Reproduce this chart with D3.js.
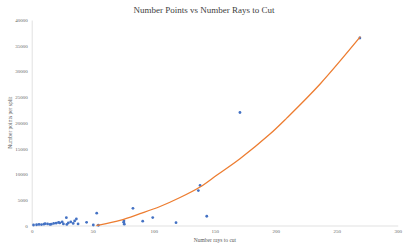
<!DOCTYPE html>
<html>
<head>
<meta charset="utf-8">
<script src="https://cdn.jsdelivr.net/npm/d3@7"></script>
<style>
  body { margin: 0; background: #fff; }
  svg { display: block; }
</style>
</head>
<body>
<svg></svg>
<script>
// rays to cut vs points per split
let raysX = [1.5, 4, 6, 8, 10, 11, 13, 15, 16, 18, 20, 22, 23, 25, 26, 28.4, 28.8, 30, 32, 34, 35.2, 36.6, 38,
             45, 50.5, 53.3, 54.6, 75.4, 75.6, 75.9, 83, 91, 99.2, 118.3, 136.6, 138, 143.5, 170.7, 269]
let pointsY = [100, 150, 200, 180, 250, 350, 300, 200, 250, 400, 450, 600, 500, 700, 300, 1520, 200, 500, 700, 400, 900, 1265, 300,
               620, 100, 2400, 50, 620, 900, 250, 3350, 850, 1550, 550, 6800, 7800, 1800, 22000, 36500]

// trendline
let trendX = [53, 56, 72.4, 88.8, 105.2, 121.6, 138, 151.6, 170.7, 195.3, 209, 236.6, 269.4]
let trendY = [0, 120, 1000, 2300, 3700, 5450, 7500, 9780, 13000, 17800, 20900, 27600, 36750]

let xTicks = [0, 50, 100, 150, 200, 250, 300]
let yTicks = [0, 5000, 10000, 15000, 20000, 25000, 30000, 35000, 40000]

let width = 408
let height = 249
let padLeft = 31.7
let padRight = 397.7
let padTop = 20
let padBottom = 225.5

let svg = d3.select('svg')
svg.attr('width', width).attr('height', height)

let xScale = d3.scaleLinear().domain([0, 300]).range([padLeft, padRight])
let yScale = d3.scaleLinear().domain([0, 40000]).range([padBottom, padTop])

// title
svg.append('text')
    .attr('x', 204)
    .attr('y', 12.5)
    .attr('text-anchor', 'middle')
    .style('font-family', 'Liberation Serif')
    .style('font-size', '9px')
    .style('fill', '#404040')
    .text('Number Points vs Number Rays to Cut')

// axes
let xAxis = d3.axisBottom(xScale).tickValues(xTicks).tickSize(0).tickPadding(4).tickFormat(d3.format('d'))
let yAxis = d3.axisLeft(yScale).tickValues(yTicks).tickSize(0).tickPadding(4).tickFormat(d3.format('d'))

let gx = svg.append('g')
    .attr('transform', 'translate(0,' + padBottom + ')')
    .call(xAxis)
gx.select('.domain').attr('stroke', '#d9d9d9').attr('stroke-width', 0.8)

let gy = svg.append('g')
    .attr('transform', 'translate(' + padLeft + ',0)')
    .call(yAxis)
gy.select('.domain').attr('stroke', '#d9d9d9').attr('stroke-width', 0.8)

svg.selectAll('.tick text')
    .style('font-family', 'Liberation Serif')
    .style('font-size', '5px')
    .style('fill', '#666')

svg.append('text')
    .attr('transform', 'rotate(-90)')
    .attr('x', -(padTop + padBottom) / 2)
    .attr('y', 11.5)
    .attr('text-anchor', 'middle')
    .style('font-family', 'Liberation Serif')
    .style('font-size', '5.5px')
    .style('fill', '#595959')
    .text('Number points per split')

svg.append('text')
    .attr('x', 215)
    .attr('y', 241.5)
    .attr('text-anchor', 'middle')
    .style('font-family', 'Liberation Serif')
    .style('font-size', '5.5px')
    .style('fill', '#595959')
    .text('Number rays to cut')

// scatter
let pts = raysX.map((x, i) => [x, pointsY[i]])
svg.append('g')
    .selectAll('circle')
    .data(pts)
    .enter()
    .append('circle')
    .attr('cx', d => xScale(d[0]))
    .attr('cy', d => yScale(d[1]))
    .attr('r', 1.4)
    .attr('fill', '#4472c4')

// trendline
let trend = trendX.map((x, i) => [x, trendY[i]])
let line = d3.line()
    .x(d => xScale(d[0]))
    .y(d => yScale(d[1]))
    .curve(d3.curveCatmullRom)
svg.append('path')
    .datum(trend)
    .attr('d', line)
    .attr('fill', 'none')
    .attr('stroke', '#ed7d31')
    .attr('stroke-width', 1.3)
</script>
</body>
</html>
